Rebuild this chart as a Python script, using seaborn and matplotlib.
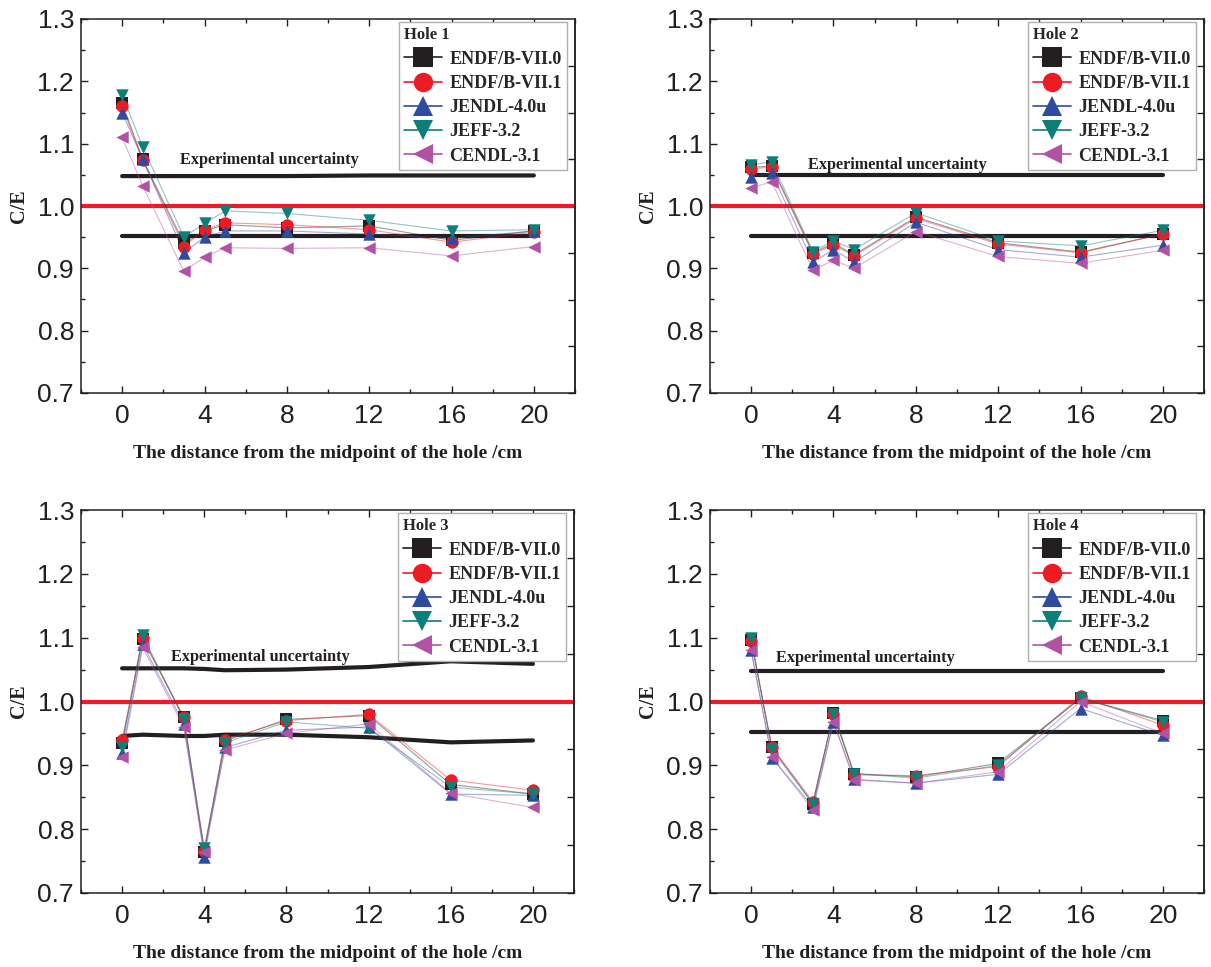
import numpy as np
import pandas as pd
import matplotlib
matplotlib.use("Agg")
import matplotlib.pyplot as plt
from matplotlib.lines import Line2D
from matplotlib.ticker import MultipleLocator
import seaborn as sns

sns.set_theme(style="ticks")
plt.rcParams['font.family'] = ['Liberation Sans', 'DejaVu Sans']

# ---------------- data ----------------
distance = [0, 1, 3, 4, 5, 8, 12, 16, 20]
libraries = ["ENDF/B-VII.0", "ENDF/B-VII.1", "JENDL-4.0u", "JEFF-3.2", "CENDL-3.1"]
holes = ["Hole 1", "Hole 2", "Hole 3", "Hole 4"]

hole1_endf70 = [1.165, 1.075, 0.940, 0.960, 0.970, 0.965, 0.968, 0.945, 0.960]
hole1_endf71 = [1.160, 1.073, 0.935, 0.962, 0.973, 0.970, 0.962, 0.942, 0.958]
hole1_jendl = [1.150, 1.075, 0.925, 0.950, 0.960, 0.960, 0.955, 0.948, 0.960]
hole1_jeff = [1.178, 1.095, 0.950, 0.972, 0.992, 0.988, 0.977, 0.960, 0.962]
hole1_cendl = [1.110, 1.032, 0.895, 0.918, 0.933, 0.932, 0.933, 0.920, 0.935]
hole1_unc_up = [1.048, 1.048, 1.048, 1.048, 1.048, 1.048, 1.049, 1.049, 1.049]
hole1_unc_lo = [0.952, 0.952, 0.952, 0.952, 0.952, 0.952, 0.952, 0.952, 0.952]

hole2_endf70 = [1.062, 1.064, 0.925, 0.940, 0.922, 0.982, 0.941, 0.926, 0.955]
hole2_endf71 = [1.060, 1.062, 0.923, 0.938, 0.920, 0.980, 0.939, 0.925, 0.955]
hole2_jendl = [1.047, 1.053, 0.910, 0.930, 0.910, 0.974, 0.930, 0.918, 0.937]
hole2_jeff = [1.066, 1.071, 0.927, 0.944, 0.930, 0.989, 0.944, 0.936, 0.961]
hole2_cendl = [1.029, 1.039, 0.897, 0.913, 0.900, 0.959, 0.919, 0.908, 0.929]
hole2_unc_up = [1.049, 1.049, 1.049, 1.049, 1.049, 1.049, 1.049, 1.049, 1.049]
hole2_unc_lo = [0.952, 0.952, 0.952, 0.952, 0.952, 0.952, 0.952, 0.952, 0.952]

hole3_endf70 = [0.935, 1.098, 0.975, 0.765, 0.938, 0.972, 0.978, 0.870, 0.855]
hole3_endf71 = [0.939, 1.100, 0.976, 0.766, 0.940, 0.970, 0.980, 0.877, 0.861]
hole3_jendl = [0.920, 1.090, 0.965, 0.757, 0.928, 0.955, 0.960, 0.855, 0.853]
hole3_jeff = [0.929, 1.104, 0.972, 0.770, 0.935, 0.968, 0.958, 0.866, 0.855]
hole3_cendl = [0.913, 1.085, 0.960, 0.765, 0.924, 0.950, 0.965, 0.856, 0.834]
hole3_unc_up = [1.052, 1.052, 1.052, 1.051, 1.049, 1.050, 1.054, 1.063, 1.059]
hole3_unc_lo = [0.946, 0.948, 0.946, 0.946, 0.948, 0.948, 0.944, 0.936, 0.939]

hole4_endf70 = [1.097, 0.928, 0.840, 0.982, 0.887, 0.882, 0.903, 1.005, 0.970]
hole4_endf71 = [1.095, 0.929, 0.843, 0.980, 0.885, 0.884, 0.898, 1.008, 0.963]
hole4_jendl = [1.080, 0.912, 0.835, 0.968, 0.878, 0.872, 0.886, 0.989, 0.947]
hole4_jeff = [1.099, 0.925, 0.840, 0.980, 0.887, 0.880, 0.900, 1.005, 0.968]
hole4_cendl = [1.080, 0.913, 0.830, 0.968, 0.877, 0.872, 0.890, 1.000, 0.950]
hole4_unc_up = [1.048, 1.048, 1.048, 1.048, 1.048, 1.048, 1.048, 1.048, 1.048]
hole4_unc_lo = [0.952, 0.952, 0.952, 0.952, 0.952, 0.952, 0.952, 0.952, 0.952]

series = {
    "Hole 1": [hole1_endf70, hole1_endf71, hole1_jendl, hole1_jeff, hole1_cendl],
    "Hole 2": [hole2_endf70, hole2_endf71, hole2_jendl, hole2_jeff, hole2_cendl],
    "Hole 3": [hole3_endf70, hole3_endf71, hole3_jendl, hole3_jeff, hole3_cendl],
    "Hole 4": [hole4_endf70, hole4_endf71, hole4_jendl, hole4_jeff, hole4_cendl],
}
uncert = {
    "Hole 1": (hole1_unc_up, hole1_unc_lo),
    "Hole 2": (hole2_unc_up, hole2_unc_lo),
    "Hole 3": (hole3_unc_up, hole3_unc_lo),
    "Hole 4": (hole4_unc_up, hole4_unc_lo),
}
# text anchor (x, y) for "Experimental uncertainty"
text_pos = {"Hole 1": (2.8, 1.074), "Hole 2": (2.75, 1.066),
            "Hole 3": (2.4, 1.070), "Hole 4": (1.2, 1.068)}

# ---------------- styles ----------------
colors = ["#231f20", "#ed1c24", "#2e4b9f", "#0d7f7a", "#b352a5"]
markers = ["s", "o", "^", "v", "<"]
palette = dict(zip(libraries, colors))
marker_map = dict(zip(libraries, markers))

serif_bold = dict(family="Liberation Serif", weight="bold")

fig = plt.figure(figsize=(12.11, 9.67), dpi=100)
positions = [
    [81 / 1211, 574 / 967, 494 / 1211, 374 / 967],
    [710 / 1211, 574 / 967, 494 / 1211, 374 / 967],
    [81 / 1211, 74 / 967, 493 / 1211, 383 / 967],
    [710 / 1211, 74 / 967, 494 / 1211, 383 / 967],
]

for hole, pos in zip(holes, positions):
    ax = fig.add_axes(pos)
    rows = []
    for lib, vals in zip(libraries, series[hole]):
        for d, v in zip(distance, vals):
            rows.append({"x": d, "y": v, "lib": lib})
    df = pd.DataFrame(rows)

    # experimental uncertainty band edges
    up, lo = uncert[hole]
    udf = pd.DataFrame({"x": distance, "up": up, "lo": lo})
    sns.lineplot(data=udf, x="x", y="up", color="#231f20", lw=3, ax=ax, zorder=2)
    sns.lineplot(data=udf, x="x", y="lo", color="#231f20", lw=3, ax=ax, zorder=2)
    ax.axhline(1.0, color="#ed1c24", lw=3, zorder=2)

    # thin connecting lines
    sns.lineplot(data=df, x="x", y="y", hue="lib", palette=palette,
                 lw=0.8, alpha=0.45, legend=False, ax=ax, zorder=3,
                 estimator=None, sort=False)
    # markers
    for lib in libraries:
        sub = df[df["lib"] == lib]
        sns.scatterplot(data=sub, x="x", y="y", color=palette[lib],
                        marker=marker_map[lib], s=80, linewidth=0,
                        legend=False, ax=ax, zorder=4)

    tx, ty = text_pos[hole]
    ax.text(tx, ty, "Experimental uncertainty", fontsize=11.7, ha="left",
            va="center", color="#231f20", **serif_bold)

    ax.set_xlim(-2, 22)
    ax.set_ylim(0.7, 1.3)
    ax.set_xticks([0, 4, 8, 12, 16, 20])
    ax.xaxis.set_minor_locator(MultipleLocator(2))
    ax.set_yticks(np.round(np.arange(0.7, 1.31, 0.1), 1))
    ax.yaxis.set_minor_locator(MultipleLocator(0.05))
    ax.set_yticklabels([f"{t:.1f}" for t in np.arange(0.7, 1.31, 0.1)])
    ax.tick_params(which="both", direction="in", top=True, right=False,
                   colors="#231f20", labelsize=19, width=1)
    ax.tick_params(which="major", length=5)
    ax.tick_params(which="minor", length=3)
    ax.tick_params(axis="x", pad=8)
    ax.tick_params(axis="y", pad=5)
    for sp in ax.spines.values():
        sp.set_visible(True)
        sp.set_linewidth(1.1)
        sp.set_color("#231f20")

    sec = ax.secondary_yaxis("right")
    sec.set_yticks([0.7, 0.775, 0.85, 0.925, 1.0, 1.075, 1.15, 1.225])
    sec.set_yticklabels([])
    sec.tick_params(direction="in", length=5, width=1, colors="#231f20")
    sec.yaxis.set_minor_locator(plt.NullLocator())
    sec.spines["right"].set_linewidth(1.1)

    ax.set_xlabel("The distance from the midpoint of the hole /cm",
                  fontsize=14, labelpad=12, color="#231f20", **serif_bold)
    ax.set_ylabel("C/E", fontsize=14.5, labelpad=6, color="#231f20", **serif_bold)

    handles = [Line2D([0], [0], color=c, marker=m, markersize=14, lw=1.2,
                      markeredgewidth=0) for c, m in zip(colors, markers)]
    leg = ax.legend(handles, libraries, title=hole, loc="upper right",
                    bbox_to_anchor=(0.984, 0.992), borderaxespad=0,
                    frameon=True, fancybox=False,
                    edgecolor="#b0b0b0", framealpha=1, handlelength=2.1,
                    labelspacing=0.4, borderpad=0.3, handletextpad=0.4,
                    prop=dict(family="Liberation Serif", weight="bold", size=13))
    leg.get_title().set_fontproperties(dict(family="Liberation Serif", weight="bold", size=12))
    leg._legend_box.align = "left"
    leg.get_frame().set_linewidth(1.0)
    leg.set_zorder(10)

fig.savefig("out.png", dpi=100)
